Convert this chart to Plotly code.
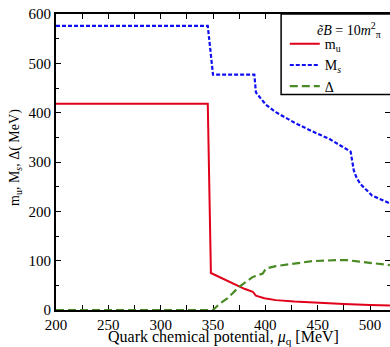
import plotly.graph_objects as go

# ---- data ----
mu_u = [200, 345, 348, 355, 364, 373.6, 380, 388, 391, 399, 410, 427.6, 450, 475, 500, 519]
m_u = [418, 418, 75, 68, 60, 49, 43, 37, 29, 24, 20, 17, 14, 12, 10, 9]

mu_s = [200, 345, 350, 389.5, 391, 395, 400.6, 410, 427.6, 445, 461, 481.5, 483, 484.5, 487, 490.5, 502, 510, 519]
M_s = [576, 576, 477, 477, 441, 430, 416, 401, 380, 362, 347, 321, 300, 283, 269, 256, 232, 224, 216]

mu_d = [200, 350, 356, 364, 375, 388, 397.5, 400.6, 410, 427.6, 445, 467, 478, 490, 505, 519]
Delta = [0, 0, 12, 24, 47, 67, 74, 84, 89, 94, 99, 101, 101, 98, 95, 91]

x_ticks = [200, 250, 300, 350, 400, 450, 500]
y_ticks = [0, 100, 200, 300, 400, 500, 600]

FONT = "Liberation Serif"

fig = go.Figure()
fig.add_trace(go.Scatter(x=mu_u, y=m_u, mode="lines", name="m<sub>u</sub>",
                         line=dict(color="#e0001a", width=2)))
fig.add_trace(go.Scatter(x=mu_s, y=M_s, mode="lines", name="M<sub><i>s</i></sub>",
                         line=dict(color="#1010f0", width=2.2, dash="4px,2px")))
fig.add_trace(go.Scatter(x=mu_d, y=Delta, mode="lines", name="Δ",
                         line=dict(color="#4a8a25", width=2.2, dash="8px,4px")))
# carrier for right-side ticks
fig.add_trace(go.Scatter(x=[None], y=[None], yaxis="y2", showlegend=False, hoverinfo="skip"))

fig.update_layout(
    width=390, height=347,
    margin=dict(l=56, r=0, t=14, b=37),
    paper_bgcolor="white", plot_bgcolor="white",
    font=dict(family=FONT, size=15, color="black"),
    showlegend=True,
    legend=dict(x=0.685, y=0.952, xanchor="left", yanchor="top",
                bgcolor="rgba(0,0,0,0)", borderwidth=0,
                font=dict(family=FONT, size=14), itemwidth=30,
                tracegroupgap=0),
    xaxis=dict(range=[200, 519.1], tickvals=x_ticks, ticks="inside", ticklen=5,
               tickwidth=1.3, tickcolor="black", showline=True, linecolor="black",
               linewidth=2, mirror="allticks", showgrid=False, zeroline=False,
               minor=dict(dtick=25, tick0=200, ticks="inside", ticklen=3, tickcolor="black",
                          showgrid=False),
               layer="below traces", ticklabelstandoff=0,
               tickfont=dict(family=FONT, size=15)),
    yaxis=dict(range=[0, 600], tickvals=y_ticks, ticks="inside", ticklen=5,
               tickwidth=1.3, tickcolor="black", showline=True, linecolor="black",
               linewidth=2, showgrid=False, zeroline=False,
               minor=dict(dtick=50, tick0=0, ticks="inside", ticklen=3, tickcolor="black",
                          showgrid=False),
               layer="below traces",
               tickfont=dict(family=FONT, size=15)),
    yaxis2=dict(range=[0, 600], overlaying="y", side="right", tickvals=y_ticks,
                ticks="inside", ticklen=5, tickcolor="black", showline=False,
                showticklabels=False, showgrid=False, zeroline=False,
                minor=dict(dtick=50, tick0=0, ticks="inside", ticklen=3, tickcolor="black")),
    shapes=[dict(type="rect", xref="paper", yref="paper", x0=0.674, x1=1.1, y0=0.728, y1=1.0,
                 line=dict(color="black", width=1.5), fillcolor="white", layer="above")],
    annotations=[
        dict(xref="paper", yref="paper", x=0.98, y=0.988, xanchor="right", yanchor="top",
             showarrow=False, text="<i>ẽB</i> = 10<i>m</i><sup>2</sup><sub>π</sub>",
             font=dict(family=FONT, size=14)),
        dict(xref="paper", yref="paper", x=0.5015, y=-0.094, xanchor="center", yanchor="middle",
             showarrow=False, text="Quark chemical potential, <i>μ</i><sub>q</sub> [MeV]",
             font=dict(family=FONT, size=16)),
        dict(xref="paper", yref="paper", x=-0.12, y=0.517, xanchor="center", yanchor="middle",
             showarrow=False, textangle=-90,
             text="m<sub>u</sub>, M<sub><i>s</i></sub>, Δ( MeV)",
             font=dict(family=FONT, size=14)),
    ],
)

fig.write_html("out.html")
